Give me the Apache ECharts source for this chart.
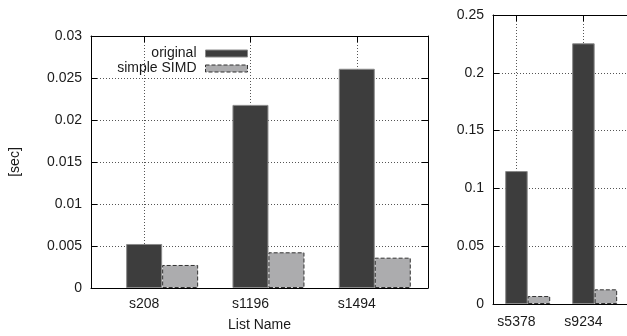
<!DOCTYPE html>
<html>
<head>
<meta charset="utf-8">
<script src="https://cdn.jsdelivr.net/npm/echarts@6/dist/echarts.min.js"></script>
<style>
html,body{margin:0;padding:0;background:#fff;}
#c{width:627px;height:336px;}
</style>
</head>
<body>
<div id="c"></div>
<script>
// ---- data ----
const categoriesA = ['s208', 's1196', 's1494'];
const originalA = [0.00524, 0.0218, 0.0261];
const simdA = [0.00274, 0.00425, 0.00361];

const categoriesB = ['s5378', 's9234'];
const originalB = [0.115, 0.2255];
const simdB = [0.0069, 0.0127];

const yMaxA = 0.03, yStepA = 0.005;
const yMaxB = 0.25, yStepB = 0.05;

const seriesNames = ['original', 'simple SIMD'];
const xTitle = 'List Name';
const yTitle = '[sec]';

// ---- styles ----
const FONT = 'Liberation Sans';
const TXT = '#1a1a1a';
const origStyle = { color: '#3d3d3d', borderColor: '#8a8a8a', borderWidth: 1 };
const simdStyle = { color: '#acacae', borderColor: '#333333', borderWidth: 1, borderType: [4, 2] };
const gridLine = { type: [1, 2], color: '#555', width: 1 };

const chart = echarts.init(document.getElementById('c'), null, { renderer: 'canvas' });

const grids = [
  { left: 91, top: 36, width: 337, height: 252, outerBoundsMode: 'none', containLabel: false },
  { left: 493, top: 15, width: 144, height: 289, outerBoundsMode: 'none', containLabel: false }
];

const panels = [
  { cats: categoriesA, orig: originalA, simd: simdA, xMin: -0.5, xMax: 2.67, yMax: yMaxA, yStep: yStepA, barW: 36, withName: true, labMargin: 9 },
  { cats: categoriesB, orig: originalB, simd: simdB, xMin: -0.35, xMax: 1.8, yMax: yMaxB, yStep: yStepB, barW: 22.5, withName: false, labMargin: 11 }
];

const xAxes = [], yAxes = [], series = [];
panels.forEach((p, gi) => {
  const idx = p.cats.map((c, i) => i);
  const base = xAxes.length;
  xAxes.push({
    type: 'value', gridIndex: gi, position: 'bottom', min: p.xMin, max: p.xMax,
    axisLine: { show: true, onZero: false, lineStyle: { color: '#000', width: 1 } },
    axisTick: { show: true, inside: true, length: 6, customValues: idx, lineStyle: { color: '#000' } },
    axisLabel: { show: true, customValues: idx, formatter: v => p.cats[Math.round(v)], margin: p.labMargin, fontSize: 14, color: TXT, fontFamily: FONT },
    splitLine: { show: true, lineStyle: gridLine },
    name: p.withName ? xTitle : '', nameLocation: 'middle', nameGap: 30,
    nameTextStyle: { fontSize: 14, color: TXT, fontFamily: FONT }
  });
  xAxes.push({
    type: 'value', gridIndex: gi, position: 'top', min: p.xMin, max: p.xMax,
    axisLine: { show: true, onZero: false, lineStyle: { color: '#000', width: 1 } },
    axisTick: { show: true, inside: true, length: 6, customValues: idx, lineStyle: { color: '#000' } },
    axisLabel: { show: false },
    splitLine: { show: false }
  });
  const ybase = yAxes.length;
  yAxes.push({
    type: 'value', gridIndex: gi, position: 'left', min: 0, max: p.yMax, interval: p.yStep,
    axisLine: { show: true, onZero: false, lineStyle: { color: '#000', width: 1 } },
    axisTick: { show: true, inside: true, length: 6, lineStyle: { color: '#000' } },
    axisLabel: { margin: 9, fontSize: 14, color: TXT, fontFamily: FONT },
    splitLine: { show: true, lineStyle: gridLine },
    name: p.withName ? yTitle : '', nameLocation: 'middle', nameGap: 69, nameRotate: 90,
    nameTextStyle: { fontSize: 14, color: TXT, fontFamily: FONT }
  });
  yAxes.push({
    type: 'value', gridIndex: gi, position: 'right', min: 0, max: p.yMax, interval: p.yStep,
    axisLine: { show: true, onZero: false, lineStyle: { color: '#000', width: 1 } },
    axisTick: { show: true, inside: true, length: 6, lineStyle: { color: '#000' } },
    axisLabel: { show: false },
    splitLine: { show: false }
  });
  // spacer series so that the "original" bar sits centred on the tick
  series.push({ type: 'bar', name: '_pad' + gi, xAxisIndex: base, yAxisIndex: ybase, data: [], barWidth: p.barW, barGap: '0%', silent: true });
  series.push({ type: 'bar', name: seriesNames[0], xAxisIndex: base, yAxisIndex: ybase, barWidth: p.barW, barGap: '0%',
    data: p.orig.map((v, i) => [i, v]), itemStyle: origStyle });
  series.push({ type: 'bar', name: seriesNames[1], xAxisIndex: base, yAxisIndex: ybase, barWidth: p.barW, barGap: '0%',
    data: p.simd.map((v, i) => [i, v]), itemStyle: simdStyle });
});

chart.setOption({
  animation: false,
  backgroundColor: '#fff',
  textStyle: { fontFamily: FONT },
  grid: grids,
  xAxis: xAxes,
  yAxis: yAxes,
  legend: {
    data: [
      { name: seriesNames[0], icon: 'rect', itemStyle: origStyle },
      { name: seriesNames[1], icon: 'rect', itemStyle: simdStyle }
    ],
    orient: 'vertical', align: 'right',
    right: 374, top: 41,
    itemWidth: 42, itemHeight: 7, itemGap: 0,
    selectedMode: false,
    textStyle: { fontSize: 14, color: TXT, fontFamily: FONT, lineHeight: 15, padding: [0, 4, 0, 0] }
  },
  series: series
});
</script>
</body>
</html>
